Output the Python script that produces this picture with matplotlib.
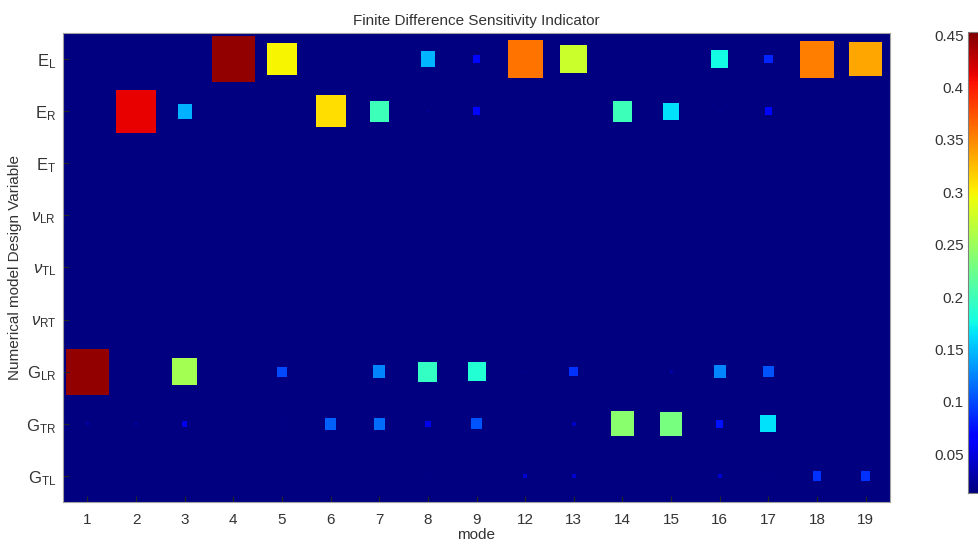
import numpy as np
import matplotlib
matplotlib.use('Agg')
import matplotlib.pyplot as plt
from matplotlib.patches import Rectangle
from matplotlib.collections import PatchCollection
from matplotlib.colors import Normalize

plt.rcParams['font.family'] = ['Liberation Sans', 'DejaVu Sans']
plt.rcParams['mathtext.fontset'] = 'custom'
plt.rcParams['mathtext.rm'] = 'Liberation Sans'
plt.rcParams['mathtext.it'] = 'Liberation Sans:italic'

modes = ['1', '2', '3', '4', '5', '6', '7', '8', '9', '12', '13', '14', '15', '16', '17', '18', '19']
variables = [r'$\mathrm{E_L}$', r'$\mathrm{E_R}$', r'$\mathrm{E_T}$', r'$\nu_\mathrm{LR}$',
             r'$\nu_\mathrm{TL}$', r'$\nu_\mathrm{RT}$', r'$\mathrm{G_{LR}}$', r'$\mathrm{G_{TR}}$',
             r'$\mathrm{G_{TL}}$']

# sensitivity per design variable (rows) and mode (columns)
E_L  = [0, 0, 0, 0.445, 0.30, 0, 0, 0.147, 0.07, 0.36, 0.275, 0, 0, 0.178, 0.085, 0.355, 0.335]
E_R  = [0, 0.413, 0.145, 0, 0, 0.31, 0.20, 0.025, 0.07, 0, 0, 0.20, 0.165, 0.02, 0.07, 0, 0]
E_T  = [0] * 17
v_LR = [0] * 17
v_TL = [0] * 17
v_RT = [0] * 17
G_LR = [0.445, 0, 0.255, 0, 0.10, 0, 0.125, 0.195, 0.185, 0.02, 0.09, 0, 0.03, 0.125, 0.105, 0, 0]
G_TR = [0.03, 0.03, 0.055, 0, 0.02, 0.11, 0.115, 0.055, 0.105, 0, 0.04, 0.24, 0.23, 0.075, 0.165, 0, 0]
G_TL = [0, 0, 0, 0, 0, 0, 0, 0.015, 0.015, 0.045, 0.045, 0, 0, 0.045, 0.02, 0.09, 0.09]

data = np.array([E_L, E_R, E_T, v_LR, v_TL, v_RT, G_LR, G_TR, G_TL])
vmin, vmax = 0.013, 0.453
txt = '#333333'

fig = plt.figure(figsize=(9.79, 5.45), dpi=100)
ax = fig.add_axes([0.0644, 0.0789, 0.8447, 0.8606])
cmap = plt.get_cmap('jet')
norm = Normalize(vmin=vmin, vmax=vmax)
ax.set_facecolor(cmap(0.0))

# square side proportional to value
rects = []
vals = []
for i in range(data.shape[0]):
    for j in range(data.shape[1]):
        v = data[i, j]
        if v <= 0:
            continue
        s = 2 * v
        rects.append(Rectangle((j + 1 - s / 2, i + 1 - s / 2), s, s))
        vals.append(v)

pc = PatchCollection(rects, cmap=cmap, norm=norm, edgecolor='none')
pc.set_array(np.array(vals))
ax.add_collection(pc)

ax.set_xlim(0.5, len(modes) + 0.5)
ax.set_ylim(len(variables) + 0.5, 0.5)
ax.set_xticks(range(1, len(modes) + 1))
ax.set_xticklabels(modes)
ax.set_yticks(range(1, len(variables) + 1))
ax.set_yticklabels(variables)
ax.tick_params(direction='in', colors='#262626', labelcolor=txt, length=4)
ax.tick_params(axis='x', labelsize=11, pad=8)
ax.tick_params(axis='y', labelsize=12, pad=5)
for sp in ax.spines.values():
    sp.set_color('#a0a0a0')

ax.set_title('Finite Difference Sensitivity Indicator', fontsize=11, color=txt, pad=6)
ax.set_xlabel('mode', fontsize=11, color=txt, labelpad=1)
ax.set_ylabel('Numerical model Design Variable', fontsize=11, color=txt, labelpad=3)

cax = fig.add_axes([0.9888, 0.0954, 0.03, 0.846])
cb = fig.colorbar(pc, cax=cax)
cb.set_ticks([0.05, 0.1, 0.15, 0.2, 0.25, 0.3, 0.35, 0.4, 0.45])
cb.set_ticklabels(['0.05', '0.1', '0.15', '0.2', '0.25', '0.3', '0.35', '0.4', '0.45'])
cax.yaxis.set_ticks_position('left')
cax.tick_params(length=0, labelsize=11, colors=txt, pad=3)
cb.outline.set_edgecolor('#808080')

fig.savefig('out.png', dpi=100)
